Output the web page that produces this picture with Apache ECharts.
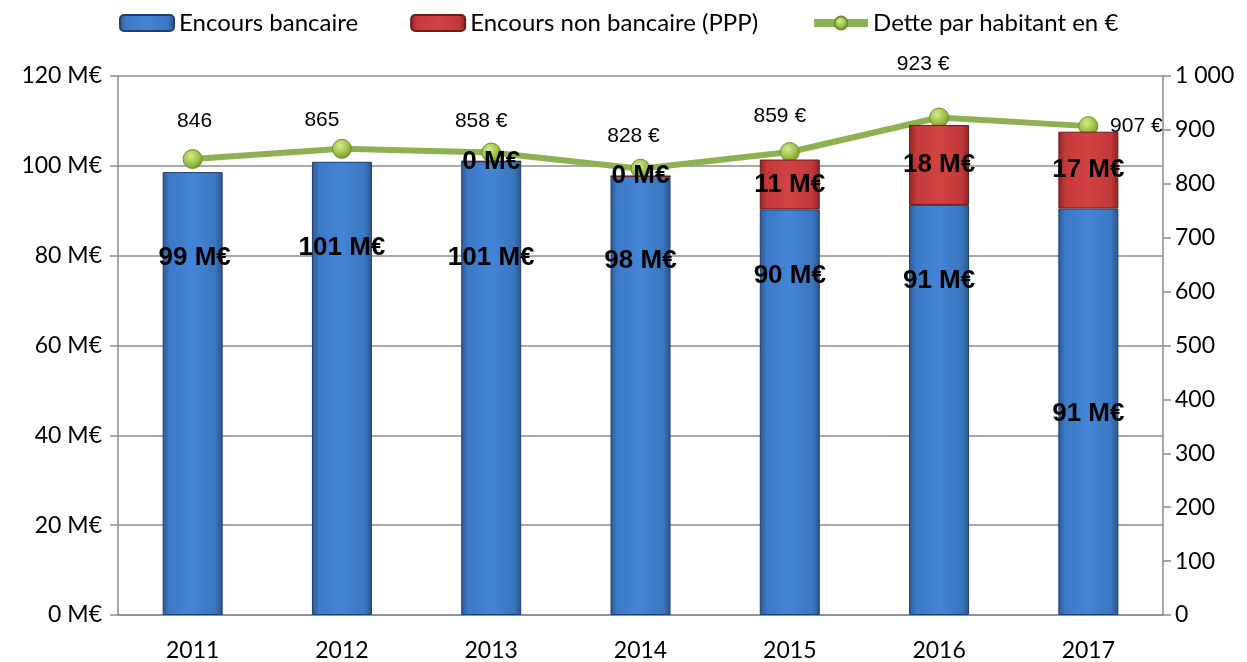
<!DOCTYPE html>
<html><head><meta charset="utf-8">
<script src="https://cdn.jsdelivr.net/npm/echarts@6/dist/echarts.min.js"></script>
<style>html,body{margin:0;padding:0;background:#fff}#c{width:1247px;height:662px}</style>
</head><body><div id="c"></div>
<script>
const years = ['2011','2012','2013','2014','2015','2016','2017'];
const encoursBancaire = [98.6, 100.9, 101.0, 97.7, 90.3, 91.3, 90.5];
const encoursNonBancaire = [null, null, 0, 0, 11.1, 17.8, 17.1];
const detteParHabitant = [846, 865, 858, 828, 859, 923, 907];
const detteLabels = ['846', '865', '858 €', '828 €', '859 €', '923 €', '907 €'];
const leftTicks = ['0 M€','20 M€','40 M€','60 M€','80 M€','100 M€','120 M€'];
const rightTicks = ['0','100','200','300','400','500','600','700','800','900','1 000'];

// label placement (style only)
const blueLabelOffsets = [[2,68],[0,68],[0,78],[0,67],[0,48],[0,58],[0,187]];
const lineLabelOffsets = [[2,-12],[-20,-3],[-10,-6],[-7,-7],[-10,-10],[-16,-28],[48,26]];

const FONT = 'Lato';
const blueGrad = {type:'linear',x:0,y:0,x2:1,y2:0,colorStops:[
  {offset:0,color:'#2c5a97'},{offset:0.12,color:'#3d7ac8'},{offset:0.5,color:'#4385d6'},{offset:0.88,color:'#3b76c0'},{offset:1,color:'#2a548c'}]};
const redGrad = {type:'linear',x:0,y:0,x2:1,y2:0,colorStops:[
  {offset:0,color:'#8f2626'},{offset:0.12,color:'#c63a3a'},{offset:0.5,color:'#d24343'},{offset:0.88,color:'#c23838'},{offset:1,color:'#8a2424'}]};
const dotGrad = {type:'radial',x:0.4,y:0.35,r:0.7,colorStops:[
  {offset:0,color:'#d6eb8f'},{offset:0.6,color:'#9cc044'},{offset:1,color:'#6d8f2a'}]};

const chart = echarts.init(document.getElementById('c'));
chart.setOption({
  animation:false,
  textStyle:{fontFamily:FONT},
  legend:{
    top:6, left:114, itemWidth:54, itemHeight:16, itemGap:52,
    textStyle:{fontFamily:FONT, fontSize:24, color:'#000'},
    lineStyle:{width:8},
    data:['Encours bancaire','Encours non bancaire (PPP)','Dette par habitant en €']
  },
  grid:{left:118, right:84, top:76, bottom:45},
  xAxis:{
    type:'category', data:years,
    axisLine:{lineStyle:{color:'#8c8c8c', width:1.5}},
    axisTick:{show:false},
    axisLabel:{fontFamily:FONT, fontSize:23, color:'#000', margin:24}
  },
  yAxis:[{
    type:'value', min:0, max:120, interval:20,
    axisLine:{show:true, lineStyle:{color:'#8c8c8c', width:1.5}},
    axisTick:{show:true, length:8, lineStyle:{color:'#8c8c8c', width:1.5}},
    splitLine:{lineStyle:{color:'#8c8c8c', width:1.5}},
    axisLabel:{fontFamily:FONT, fontSize:23, color:'#000', margin:16,
      formatter:(v)=>leftTicks[Math.round(v/20)]}
  },{
    type:'value', min:0, max:1000, interval:100, position:'right',
    axisLine:{show:true, lineStyle:{color:'#8c8c8c', width:1.5}},
    axisTick:{show:true, length:8, lineStyle:{color:'#8c8c8c', width:1.5}},
    splitLine:{show:false},
    axisLabel:{fontFamily:FONT, fontSize:23, color:'#000', margin:12,
      formatter:(v)=>rightTicks[Math.round(v/100)]}
  }],
  series:[{
    name:'Encours bancaire', type:'bar', stack:'enc', barWidth:60,
    itemStyle:{color:blueGrad, borderColor:'#1f3f6e', borderWidth:1},
    data:encoursBancaire.map((v,i)=>({value:v, label:{offset:blueLabelOffsets[i]}})),
    label:{show:true, position:'insideTop', distance:5, fontFamily:'Liberation Sans', fontWeight:'bold', fontSize:26, color:'#000',
      formatter:(p)=>Math.round(p.value)+' M€'},
    z:2
  },{
    name:'Encours non bancaire (PPP)', type:'bar', stack:'enc', barWidth:60,
    itemStyle:{color:redGrad, borderColor:'#6e1c1c', borderWidth:1},
    data:encoursNonBancaire,
    label:{show:true, position:'inside', fontFamily:'Liberation Sans', fontWeight:'bold', fontSize:26, color:'#000',
      formatter:(p)=>Math.round(p.value)+' M€'},
    z:6
  },{
    name:'Dette par habitant en €', type:'line', yAxisIndex:1,
    symbol:'circle', symbolSize:19,
    lineStyle:{color:'#8db150', width:6},
    itemStyle:{color:dotGrad, borderColor:'#6f9030', borderWidth:1},
    data:detteParHabitant.map((v,i)=>({value:v, label:{offset:lineLabelOffsets[i]}})),
    label:{show:true, position:'top', distance:5, fontFamily:'Liberation Sans', fontSize:21, color:'#000',
      formatter:(p)=>detteLabels[p.dataIndex]},
    z:5
  }]
});
</script></body></html>
